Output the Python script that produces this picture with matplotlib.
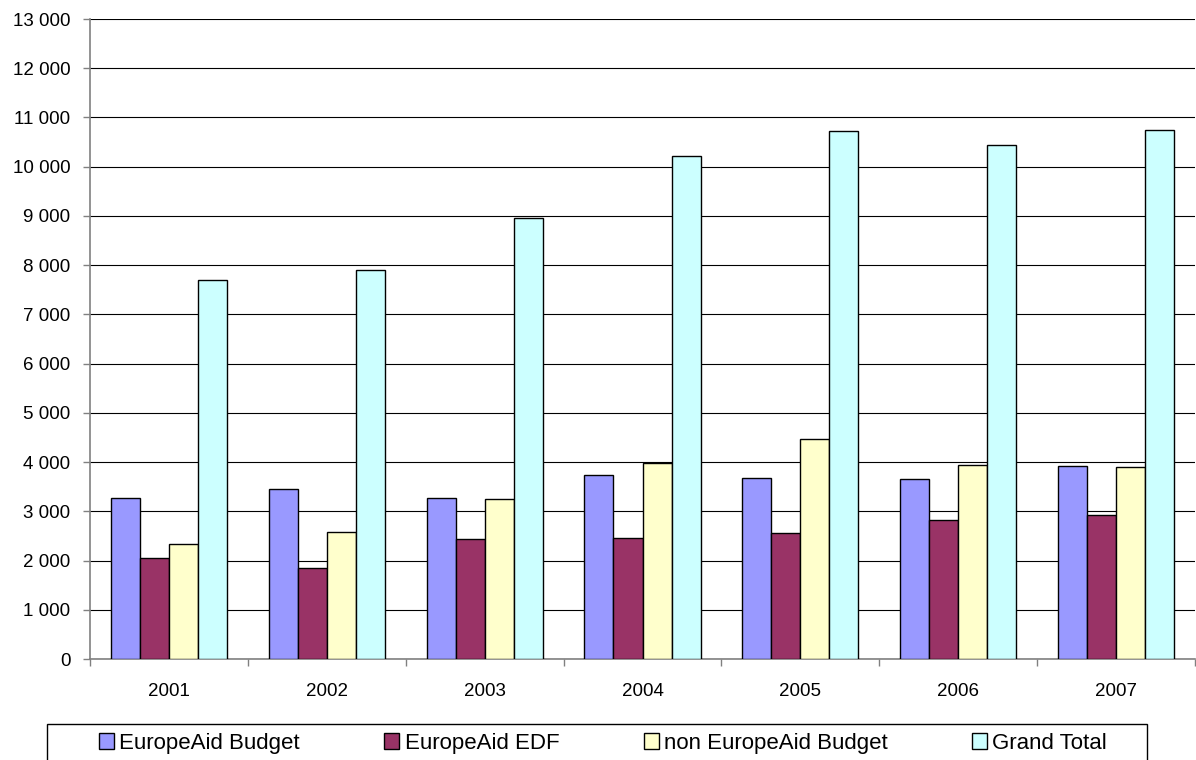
import numpy as np
import matplotlib.pyplot as plt
from matplotlib.patches import Rectangle
from matplotlib.ticker import FuncFormatter, MultipleLocator

years = ['2001', '2002', '2003', '2004', '2005', '2006', '2007']
europeaid_budget = [3280, 3460, 3280, 3740, 3680, 3650, 3920]
europeaid_edf = [2060, 1840, 2430, 2460, 2550, 2820, 2920]
non_europeaid_budget = [2340, 2580, 3250, 3980, 4470, 3950, 3890]
grand_total = [7700, 7910, 8950, 10210, 10720, 10450, 10750]

series_names = ['EuropeAid Budget', 'EuropeAid EDF', 'non EuropeAid Budget', 'Grand Total']
series_colors = ['#9999FF', '#993366', '#FFFFCC', '#CCFFFF']

plt.rcParams['font.family'] = ['Liberation Sans', 'DejaVu Sans']

fig = plt.figure(figsize=(11.96, 7.6), dpi=100)
ax = fig.add_axes([90 / 1196, 101 / 760, 1105 / 1196, 640 / 760])

x = np.arange(len(years))
width = 0.184
all_series = [europeaid_budget, europeaid_edf, non_europeaid_budget, grand_total]
for i, (vals, name, col) in enumerate(zip(all_series, series_names, series_colors)):
    offset = (i - 1.5) * width
    ax.bar(x + offset, vals, width, color=col, edgecolor='black', linewidth=1.0,
           label=name, zorder=3)

ax.set_xlim(-0.5, len(years) - 0.5)
ax.set_ylim(0, 13000)
ax.yaxis.set_major_locator(MultipleLocator(1000))
ax.yaxis.set_major_formatter(FuncFormatter(lambda v, p: f"{int(v):,}".replace(',', ' ')))
ax.grid(axis='y', color='black', linewidth=0.8, zorder=0)

ax.set_xticks(x)
ax.set_xticklabels(years)
ax.set_xticks(np.arange(-0.5, len(years)), minor=True)
ax.tick_params(axis='x', which='major', length=0, pad=17, labelsize=13.5)
ax.tick_params(axis='x', which='minor', length=5, width=1.0, color='#808080')
ax.tick_params(axis='y', length=5, width=1.0, color='#808080', labelsize=13.5, pad=9)

for side in ['top', 'right']:
    ax.spines[side].set_visible(False)
ax.spines['left'].set_color('#808080')
ax.spines['bottom'].set_color('#808080')
ax.spines['left'].set_linewidth(1.2)
ax.spines['bottom'].set_linewidth(1.2)

# legend box drawn separately so the entries can sit where the reference has them
fig.add_artist(Rectangle((47 / 1196, -0.01), 1100 / 1196, 36 / 760 + 0.01,
                         transform=fig.transFigure, facecolor='white',
                         edgecolor='black', linewidth=1.0))
leg = fig.legend(loc='center left', bbox_to_anchor=(99 / 1196, 16.5 / 760),
                 ncol=4, fontsize=16, frameon=False,
                 handlelength=0.68, handleheight=0.7, handletextpad=0.23,
                 columnspacing=3.8, borderpad=0, borderaxespad=0)

fig.savefig('out.png', dpi=100)
